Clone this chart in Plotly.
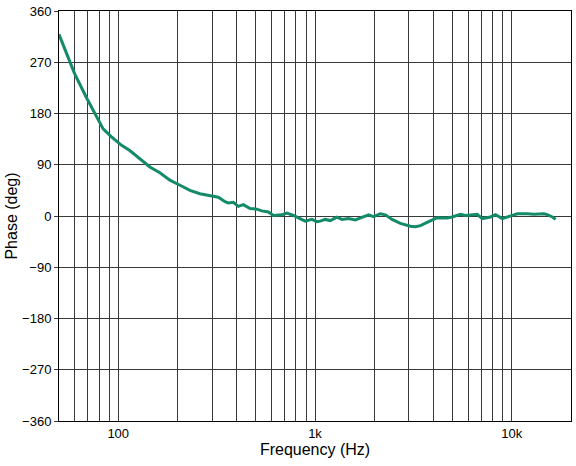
import plotly.graph_objects as go

freq_hz = [50, 56.7, 60, 69.4, 77.5, 83.8, 92.4, 104, 114.5, 128.8, 144.8, 162.8, 183, 206,
           231.5, 260, 293, 322.6, 349, 362.7, 384.6, 407.7, 432, 467.7, 506, 536.6, 579.6,
           614.6, 678.4, 719, 777, 840.5, 891, 964, 1022, 1063, 1127, 1195, 1292, 1371, 1481,
           1602, 1766, 1872, 1985, 2147, 2278, 2464, 2716, 3053, 3237, 3433, 3784, 4174, 4694,
           4977, 5488, 5818, 6672, 7074, 7800, 8272, 8946, 9666, 10670, 11990, 12960, 14570,
           15160, 16080, 16710]
phase_deg = [319, 273, 250, 206, 174, 153, 139, 124, 115, 101, 86, 76, 63, 54,
             45, 39, 35, 33, 25, 23, 24, 17, 20, 13, 12, 9, 7,
             1, 2, 5, 1, -4, -9, -6, -10, -9, -6, -8, -2, -6, -4.5,
             -7, -2, 2, -1, 4, 2, -6, -13, -18, -19, -17, -10, -3, -3.5,
             -1.7, 3, 1, 3, -4.5, -1.7, 2.4, -4.5, -0.5, 4, 4, 3, 4,
             2.4, -1.7, -5.8]

x_grid = [60, 70, 80, 90, 100, 200, 300, 400, 500, 600, 700, 800, 900, 1000,
          2000, 3000, 4000, 5000, 6000, 7000, 8000, 9000, 10000, 20000]
x_labels = {100: "100", 1000: "1k", 10000: "10k"}
y_ticks = [-360, -270, -180, -90, 0, 90, 180, 270, 360]

fig = go.Figure()
fig.add_trace(go.Scatter(x=freq_hz, y=phase_deg, mode="lines",
                         line=dict(color="#138a68", width=3), showlegend=False))

font = dict(family="Liberation Sans, Arial, sans-serif", size=13, color="#000")
fig.update_layout(
    width=576, height=466,
    margin=dict(l=59, r=5, t=11, b=45),
    paper_bgcolor="white", plot_bgcolor="white",
    font=font,
    xaxis=dict(type="log", range=[1.69897, 4.30103],
               tickmode="array", tickvals=x_grid,
               ticktext=[x_labels.get(v, "") for v in x_grid],
               showgrid=True, gridcolor="#3a3a3a", gridwidth=1,
               showline=True, linecolor="#000", linewidth=1, mirror=True,
               ticks="", zeroline=False,
               title=dict(text="Frequency (Hz)", standoff=1)),
    yaxis=dict(range=[-360, 360], tickmode="array", tickvals=y_ticks,
               showgrid=True, gridcolor="#3a3a3a", gridwidth=1,
               showline=True, linecolor="#000", linewidth=1, mirror=True,
               ticks="outside", ticklen=4, tickcolor="#3a3a3a",
               zeroline=False,
               title=dict(text="Phase (deg)", standoff=0)),
)
fig.write_html("out.html")
